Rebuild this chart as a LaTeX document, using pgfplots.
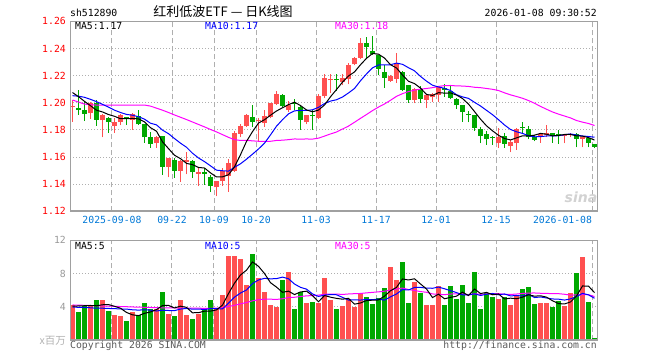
\documentclass[border=0pt]{standalone}
\usepackage{fontspec}
\usepackage{pgfplots}
\usepackage{pgfplotstable}
\pgfplotsset{compat=1.18}
\newfontfamily\monofont{DejaVu Sans Mono}
\newfontfamily\cjk{Noto Sans CJK SC}
\newfontfamily\sinafont{DejaVu Sans}
\newcommand{\mf}{\monofont\fontsize{9.8bp}{11bp}\selectfont}
\definecolor{cred}{RGB}{255,80,80}
\definecolor{cgreen}{RGB}{0,168,0}
\definecolor{cblue}{RGB}{0,0,255}
\definecolor{cmag}{RGB}{255,0,255}
\definecolor{ctick}{RGB}{0,120,215}
\definecolor{cframe}{RGB}{160,160,160}
\definecolor{cgrid}{RGB}{175,175,175}
\definecolor{ctext}{RGB}{90,90,90}

% red (up) candles: i low high body-bottom body-top
\pgfplotstableread{
i L H B T
0 1.1860 1.2020 1.1970 1.1978
3 1.1882 1.2005 1.1925 1.1998
5 1.1745 1.1916 1.1870 1.1913
7 1.1778 1.1885 1.1828 1.1855
8 1.1835 1.1915 1.1857 1.1912
10 1.1800 1.1922 1.1875 1.1920
14 1.1667 1.1752 1.1700 1.1750
16 1.1450 1.1595 1.1530 1.1590
18 1.1418 1.1575 1.1500 1.1568
19 1.1472 1.1640 1.1565 1.1575
21 1.1385 1.1530 1.1476 1.1486
24 1.1310 1.1425 1.1377 1.1422
25 1.1387 1.1520 1.1420 1.1495
26 1.1345 1.1587 1.1460 1.1558
27 1.1490 1.1795 1.1500 1.1777
28 1.1745 1.1845 1.1770 1.1832
29 1.1820 1.1920 1.1827 1.1912
31 1.1716 1.1885 1.1862 1.1870
32 1.1822 1.1943 1.1848 1.1905
33 1.1885 1.2000 1.1893 1.1997
34 1.1985 1.2085 1.1990 1.2067
36 1.1935 1.2010 1.1945 1.1985
39 1.1840 1.1910 1.1855 1.1906
41 1.1880 1.2065 1.1890 1.2047
42 1.2035 1.2215 1.2047 1.2183
43 1.2075 1.2215 1.2165 1.2178
45 1.2128 1.2210 1.2155 1.2180
46 1.2135 1.2290 1.2175 1.2276
47 1.2275 1.2340 1.2282 1.2333
48 1.2320 1.2474 1.2330 1.2441
53 1.2155 1.2205 1.2162 1.2197
54 1.2145 1.2363 1.2178 1.2289
57 1.1995 1.2110 1.2022 1.2104
59 1.1960 1.2060 1.2022 1.2054
60 1.2004 1.2068 1.2040 1.2062
61 1.2005 1.2125 1.2060 1.2118
71 1.1667 1.1815 1.1701 1.1750
73 1.1635 1.1726 1.1680 1.1708
74 1.1655 1.1815 1.1701 1.1807
78 1.1705 1.1778 1.1745 1.1773
79 1.1745 1.1835 1.1763 1.1780
82 1.1701 1.1765 1.1754 1.1762
83 1.1745 1.1775 1.1760 1.1770
85 1.1671 1.1748 1.1733 1.1745
}\redc

% green (down) candles
\pgfplotstableread{
i L H B T
1 1.1912 1.2095 1.1950 1.1958
2 1.1865 1.2015 1.1920 1.1943
4 1.1832 1.2022 1.1875 1.1998
6 1.1780 1.1892 1.1857 1.1890
9 1.1835 1.1896 1.1878 1.1892
11 1.1838 1.1943 1.1840 1.1905
12 1.1705 1.1845 1.1745 1.1840
13 1.1670 1.1785 1.1697 1.1750
15 1.1470 1.1757 1.1530 1.1755
17 1.1447 1.1590 1.1500 1.1580
20 1.1445 1.1575 1.1487 1.1570
22 1.1395 1.1520 1.1478 1.1488
23 1.1345 1.1470 1.1390 1.1455
30 1.1820 1.1980 1.1857 1.1893
35 1.1972 1.2065 1.1975 1.2055
37 1.1943 1.2025 1.1992 1.2000
38 1.1800 1.1985 1.1875 1.1968
40 1.1802 1.1943 1.1902 1.1910
44 1.2090 1.2213 1.2167 1.2175
49 1.2330 1.2483 1.2407 1.2437
50 1.2355 1.2491 1.2358 1.2382
51 1.2202 1.2355 1.2252 1.2350
52 1.2111 1.2276 1.2185 1.2227
55 1.2085 1.2237 1.2095 1.2227
56 1.2000 1.2130 1.2022 1.2128
58 1.2000 1.2125 1.2030 1.2104
62 1.2045 1.2136 1.2092 1.2110
63 1.2025 1.2125 1.2035 1.2090
64 1.1955 1.2035 1.1980 1.2030
65 1.1860 1.1985 1.1930 1.1980
66 1.1856 1.1940 1.1910 1.1918
67 1.1795 1.1910 1.1815 1.1906
68 1.1700 1.1822 1.1758 1.1807
69 1.1691 1.1795 1.1733 1.1770
70 1.1691 1.1758 1.1740 1.1748
72 1.1667 1.1780 1.1697 1.1758
75 1.1775 1.1855 1.1814 1.1824
76 1.1730 1.1830 1.1745 1.1810
77 1.1715 1.1760 1.1727 1.1746
80 1.1705 1.1780 1.1755 1.1777
81 1.1696 1.1800 1.1758 1.1766
84 1.1671 1.1775 1.1733 1.1770
86 1.1671 1.1745 1.1703 1.1741
87 1.1665 1.1698 1.1674 1.1696
}\greenc

% price moving averages
\pgfplotstableread{
i m5 m10 m30
0 1.2075 1.2052 1.2020
1 1.2045 1.2048 1.2005
2 1.2010 1.2040 1.1990
3 1.1978 1.2025 1.1985
4 1.1945 1.2008 1.1983
5 1.1932 1.1988 1.1983
6 1.1913 1.1968 1.1983
7 1.1900 1.1945 1.1983
8 1.1882 1.1928 1.1983
9 1.1883 1.1914 1.1983
10 1.1884 1.1908 1.1983
11 1.1881 1.1897 1.1983
12 1.1859 1.1879 1.1983
13 1.1816 1.1849 1.1975
14 1.1790 1.1837 1.1960
15 1.1712 1.1798 1.1945
16 1.1662 1.1772 1.1928
17 1.1613 1.1736 1.1910
18 1.1588 1.1702 1.1893
19 1.1553 1.1672 1.1876
20 1.1544 1.1628 1.1858
21 1.1523 1.1593 1.1840
22 1.1519 1.1566 1.1822
23 1.1483 1.1535 1.1803
24 1.1453 1.1503 1.1785
25 1.1454 1.1499 1.1765
26 1.1469 1.1496 1.1745
27 1.1528 1.1524 1.1728
28 1.1617 1.1550 1.1722
29 1.1715 1.1584 1.1723
30 1.1787 1.1621 1.1719
31 1.1850 1.1659 1.1716
32 1.1875 1.1702 1.1716
33 1.1908 1.1763 1.1716
34 1.1939 1.1827 1.1722
35 1.1963 1.1875 1.1724
36 1.1986 1.1918 1.1728
37 1.2004 1.1940 1.1733
38 1.1979 1.1944 1.1732
39 1.1947 1.1943 1.1733
40 1.1933 1.1948 1.1732
41 1.1946 1.1966 1.1739
42 1.1983 1.1994 1.1754
43 1.2044 1.2012 1.1770
44 1.2097 1.2022 1.1784
45 1.2152 1.2042 1.1806
46 1.2197 1.2072 1.1828
47 1.2227 1.2105 1.1856
48 1.2280 1.2162 1.1885
49 1.2327 1.2212 1.1913
50 1.2363 1.2257 1.1942
51 1.2358 1.2278 1.1968
52 1.2329 1.2278 1.1991
53 1.2280 1.2280 1.2018
54 1.2256 1.2292 1.2047
55 1.2204 1.2283 1.2067
56 1.2158 1.2258 1.2082
57 1.2141 1.2235 1.2093
58 1.2108 1.2194 1.2100
59 1.2061 1.2159 1.2105
60 1.2054 1.2129 1.2111
61 1.2074 1.2116 1.2120
62 1.2071 1.2106 1.2126
63 1.2072 1.2090 1.2127
64 1.2057 1.2059 1.2124
65 1.2031 1.2043 1.2123
66 1.1990 1.2032 1.2120
67 1.1935 1.2003 1.2114
68 1.1879 1.1976 1.2111
69 1.1830 1.1944 1.2105
70 1.1793 1.1912 1.2099
71 1.1760 1.1875 1.2090
72 1.1736 1.1836 1.2073
73 1.1726 1.1803 1.2058
74 1.1741 1.1786 1.2046
75 1.1756 1.1774 1.2033
76 1.1755 1.1757 1.2016
77 1.1761 1.1749 1.1996
78 1.1774 1.1750 1.1973
79 1.1768 1.1755 1.1952
80 1.1756 1.1756 1.1932
81 1.1759 1.1757 1.1916
82 1.1766 1.1764 1.1902
83 1.1766 1.1770 1.1888
84 1.1756 1.1762 1.1869
85 1.1754 1.1755 1.1857
86 1.1743 1.1751 1.1847
87 1.1725 1.1746 1.1832
}\pma

% volumes (millions)
\pgfplotstableread{
i v
0 4.24
3 4.12
5 4.84
7 3.08
8 2.96
10 3.40
14 3.76
16 3.16
18 4.84
19 3.04
21 3.20
24 3.76
25 5.44
26 10.12
27 10.12
28 9.76
29 6.64
31 7.52
32 5.80
33 4.24
34 4.00
36 8.20
39 4.48
41 4.48
42 7.48
43 4.84
45 4.12
46 4.96
47 4.00
48 5.56
53 8.80
54 7.24
57 7.00
59 4.24
60 4.24
61 6.52
71 4.96
73 4.24
74 5.32
78 4.48
79 4.48
82 4.12
83 5.68
85 10.00
}\redv

\pgfplotstableread{
i v
1 3.40
2 4.12
4 4.84
6 3.52
9 2.32
11 3.04
12 4.48
13 3.76
15 5.80
17 2.92
20 2.56
22 3.88
23 4.84
30 10.36
35 7.24
37 3.76
38 5.80
40 4.60
44 3.76
49 5.20
50 4.36
51 5.08
52 6.28
55 9.40
56 4.48
58 5.68
62 4.24
63 6.52
64 4.96
65 6.64
66 4.48
67 8.20
68 3.76
69 5.68
70 5.20
72 5.20
75 6.16
76 6.40
77 4.36
80 4.00
81 4.72
84 8.08
86 4.60
87 0.28
}\greenv

% volume moving averages
\pgfplotstableread{
i m5 m10 m30
0 4.10 4.00 4.24
1 4.12 3.95 4.22
2 4.15 3.95 4.20
3 4.18 3.90 4.17
4 4.144 3.85 4.15
5 4.264 3.85 4.12
6 4.288 3.82 4.10
7 4.08 3.80 4.08
8 3.848 3.76 4.05
9 3.344 3.744 4.03
10 3.056 3.66 4.00
11 2.96 3.624 3.98
12 3.24 3.66 3.96
13 3.40 3.624 3.94
14 3.688 3.516 3.92
15 4.168 3.612 3.90
16 4.192 3.576 3.89
17 3.88 3.56 3.88
18 4.096 3.748 3.87
19 3.952 3.82 3.86
20 3.304 3.736 3.85
21 3.312 3.752 3.85
22 3.504 3.692 3.84
23 3.504 3.80 3.84
24 3.648 3.80 3.85
25 4.224 3.764 3.90
26 5.608 4.46 4.05
27 6.856 5.18 4.20
28 7.84 5.672 4.38
29 8.416 6.032 4.532
30 9.40 6.812 4.736
31 8.88 7.244 4.873
32 8.016 7.436 4.929
33 6.912 7.376 4.933
34 6.384 7.40 4.905
35 5.76 7.58 4.985
36 5.896 7.388 5.141
37 5.488 6.752 5.164
38 5.80 6.356 5.259
39 5.896 6.14 5.331
40 5.368 5.564 5.371
41 4.624 5.26 5.419
42 5.368 5.428 5.519
43 5.176 5.488 5.555
44 5.032 5.464 5.555
45 4.936 5.152 5.499
46 5.032 4.828 5.559
47 4.336 4.852 5.595
48 4.48 4.828 5.619
49 4.768 4.90 5.691
50 4.816 4.876 5.751
51 4.84 4.936 5.813
52 5.296 4.816 5.893
53 5.944 5.212 6.025
54 6.352 5.56 6.141
55 7.36 6.088 6.273
56 7.24 6.04 6.085
57 7.384 6.34 5.981
58 6.76 6.352 5.845
59 6.16 6.256 5.765
60 5.128 6.244 5.561
61 5.536 6.388 5.528
62 4.984 6.184 5.476
63 5.152 5.956 5.552
64 5.296 5.728 5.584
65 5.776 5.452 5.564
66 5.368 5.452 5.44
67 6.16 5.572 5.588
68 5.608 5.38 5.52
69 5.752 5.524 5.56
70 5.464 5.62 5.58
71 5.56 5.464 5.596
72 4.96 5.56 5.52
73 5.056 5.332 5.50
74 4.984 5.368 5.552
75 5.176 5.32 5.62
76 5.464 5.512 5.668
77 5.296 5.128 5.68
78 5.344 5.20 5.644
79 5.176 5.08 5.62
80 4.744 4.96 5.608
81 4.408 4.936 5.596
82 4.36 4.828 5.524
83 4.60 4.972 5.42
84 5.32 5.248 5.448
85 6.52 5.632 5.468
86 6.496 5.452 5.472
87 5.728 5.044 5.248
}\vma

\pgfplotsset{
  kbase/.style={
    scale only axis,
    anchor=south west,
    width=527bp,
    xmin=-0.4167, xmax=87.4167,
    axis line style={draw=cframe, line width=1bp},
    major tick length=0pt,
    xtick={6.583,16.583,23.583,30.583,40.583,50.583,60.583,70.583,86.583},
    xmajorgrids, ymajorgrids,
    x grid style={draw=cgrid, line width=1bp, dash pattern=on 5bp off 3bp},
    y grid style={draw=cgrid, line width=1bp, dash pattern=on 1bp off 2bp},
    yticklabel style={inner sep=0pt, anchor=east, xshift=-4bp},
    /pgf/number format/assume math mode=true,
  },
  wick/.style={draw=none, mark=none, error bars/.cd, y dir=plus, y explicit, error mark=none,
    error bar style={draw=#1, solid, line width=1bp}},
  body/.style={draw=none, mark=none, error bars/.cd, y dir=plus, y explicit, error mark=none,
    error bar style={draw=#1, solid, line width=5bp}},
}

\begin{document}
\begin{tikzpicture}
\path[use as bounding box] (0,0) rectangle (660bp,360bp);

% ---------------- price panel ----------------
\begin{axis}[kbase,
  at={(70bp,148.7bp)},
  height=190bp,
  ymin=1.12, ymax=1.26,
  ytick={1.12,1.14,1.16,1.18,1.20,1.22,1.24,1.26},
  yticklabel style={text=red, font=\mf,
    /pgf/number format/.cd, fixed, fixed zerofill, precision=2},
  xticklabels={2025-09-08,09-22,10-09,10-20,11-03,11-17,12-01,12-15,\llap{2026-01-08}},
  xticklabel style={inner sep=0pt, anchor=north, yshift=-5.2bp, text=ctick, font=\mf},
]
\addplot[wick=cred] table[x=i, y=L, y error plus expr=\thisrow{H}-\thisrow{L}] {\redc};
\addplot[body=cred] table[x=i, y=B, y error plus expr=\thisrow{T}-\thisrow{B}] {\redc};
\addplot[wick=cgreen] table[x=i, y=L, y error plus expr=\thisrow{H}-\thisrow{L}] {\greenc};
\addplot[body=cgreen] table[x=i, y=B, y error plus expr=\thisrow{T}-\thisrow{B}] {\greenc};
\addplot[cmag, line width=1bp, mark=none] table[x=i, y=m30] {\pma};
\addplot[cblue, line width=1bp, mark=none] table[x=i, y=m10] {\pma};
\addplot[black, line width=1bp, mark=none] table[x=i, y=m5] {\pma};
\draw[cframe, line width=2bp] (rel axis cs:0,1) -- (rel axis cs:0,0) -- (rel axis cs:1,0);
\end{axis}

% ---------------- volume panel ----------------
\begin{axis}[kbase,
  at={(70bp,19.7bp)},
  height=100bp,
  ymin=0, ymax=12,
  ytick={4,8,12},
  yticklabel style={text=gray!80, font=\mf},
  xticklabels={},
]
\addplot[ycomb, cred, line width=5bp, mark=none] table[x=i, y=v] {\redv};
\addplot[ycomb, cgreen, line width=5bp, mark=none] table[x=i, y=v] {\greenv};
\addplot[cmag, line width=1bp, mark=none] table[x=i, y=m30] {\vma};
\addplot[cblue, line width=1bp, mark=none] table[x=i, y=m10] {\vma};
\addplot[black, line width=1bp, mark=none] table[x=i, y=m5] {\vma};
\draw[cframe, line width=2bp] (rel axis cs:0,1) -- (rel axis cs:0,0) -- (rel axis cs:1,0);
\end{axis}

% ---------------- texts ----------------
\node[anchor=base west, inner sep=0pt, font=\mf] at (70bp,343.3bp) {sh512890};
\node[anchor=base, inner sep=0pt, font=\cjk\fontsize{13bp}{15bp}\selectfont] at (223bp,343.3bp) {红利低波ETF — 日K线图};
\node[anchor=base east, inner sep=0pt, font=\mf] at (597bp,343.3bp) {2026-01-08 09:30:52};

\node[anchor=base west, inner sep=0pt, font=\mf] at (75bp,330.7bp) {MA5:1.17};
\node[anchor=base west, inner sep=0pt, font=\mf, text=cblue] at (205bp,330.7bp) {MA10:1.17};
\node[anchor=base west, inner sep=0pt, font=\mf, text=cmag] at (335bp,330.7bp) {MA30:1.18};

\node[anchor=base west, inner sep=0pt, font=\mf] at (75bp,110bp) {MA5:5};
\node[anchor=base west, inner sep=0pt, font=\mf, text=cblue] at (205bp,110bp) {MA10:5};
\node[anchor=base west, inner sep=0pt, font=\mf, text=cmag] at (335bp,110bp) {MA30:5};

\node[anchor=base east, inner sep=0pt, font=\cjk\fontsize{10.5bp}{12bp}\selectfont, text=gray!60] at (66bp,15.5bp) {x百万};
\node[anchor=base west, inner sep=0pt, font=\mf, text=ctext] at (70bp,12bp) {Copyright 2026 SINA.COM};
\node[anchor=base east, inner sep=0pt, font=\mf, text=ctext] at (597bp,12bp) {http://finance.sina.com.cn};

\node[anchor=base, inner sep=0pt, font=\sinafont\bfseries\itshape\fontsize{14bp}{16bp}\selectfont, text=gray!35] at (581bp,157bp) {sina};
\end{tikzpicture}
\end{document}
